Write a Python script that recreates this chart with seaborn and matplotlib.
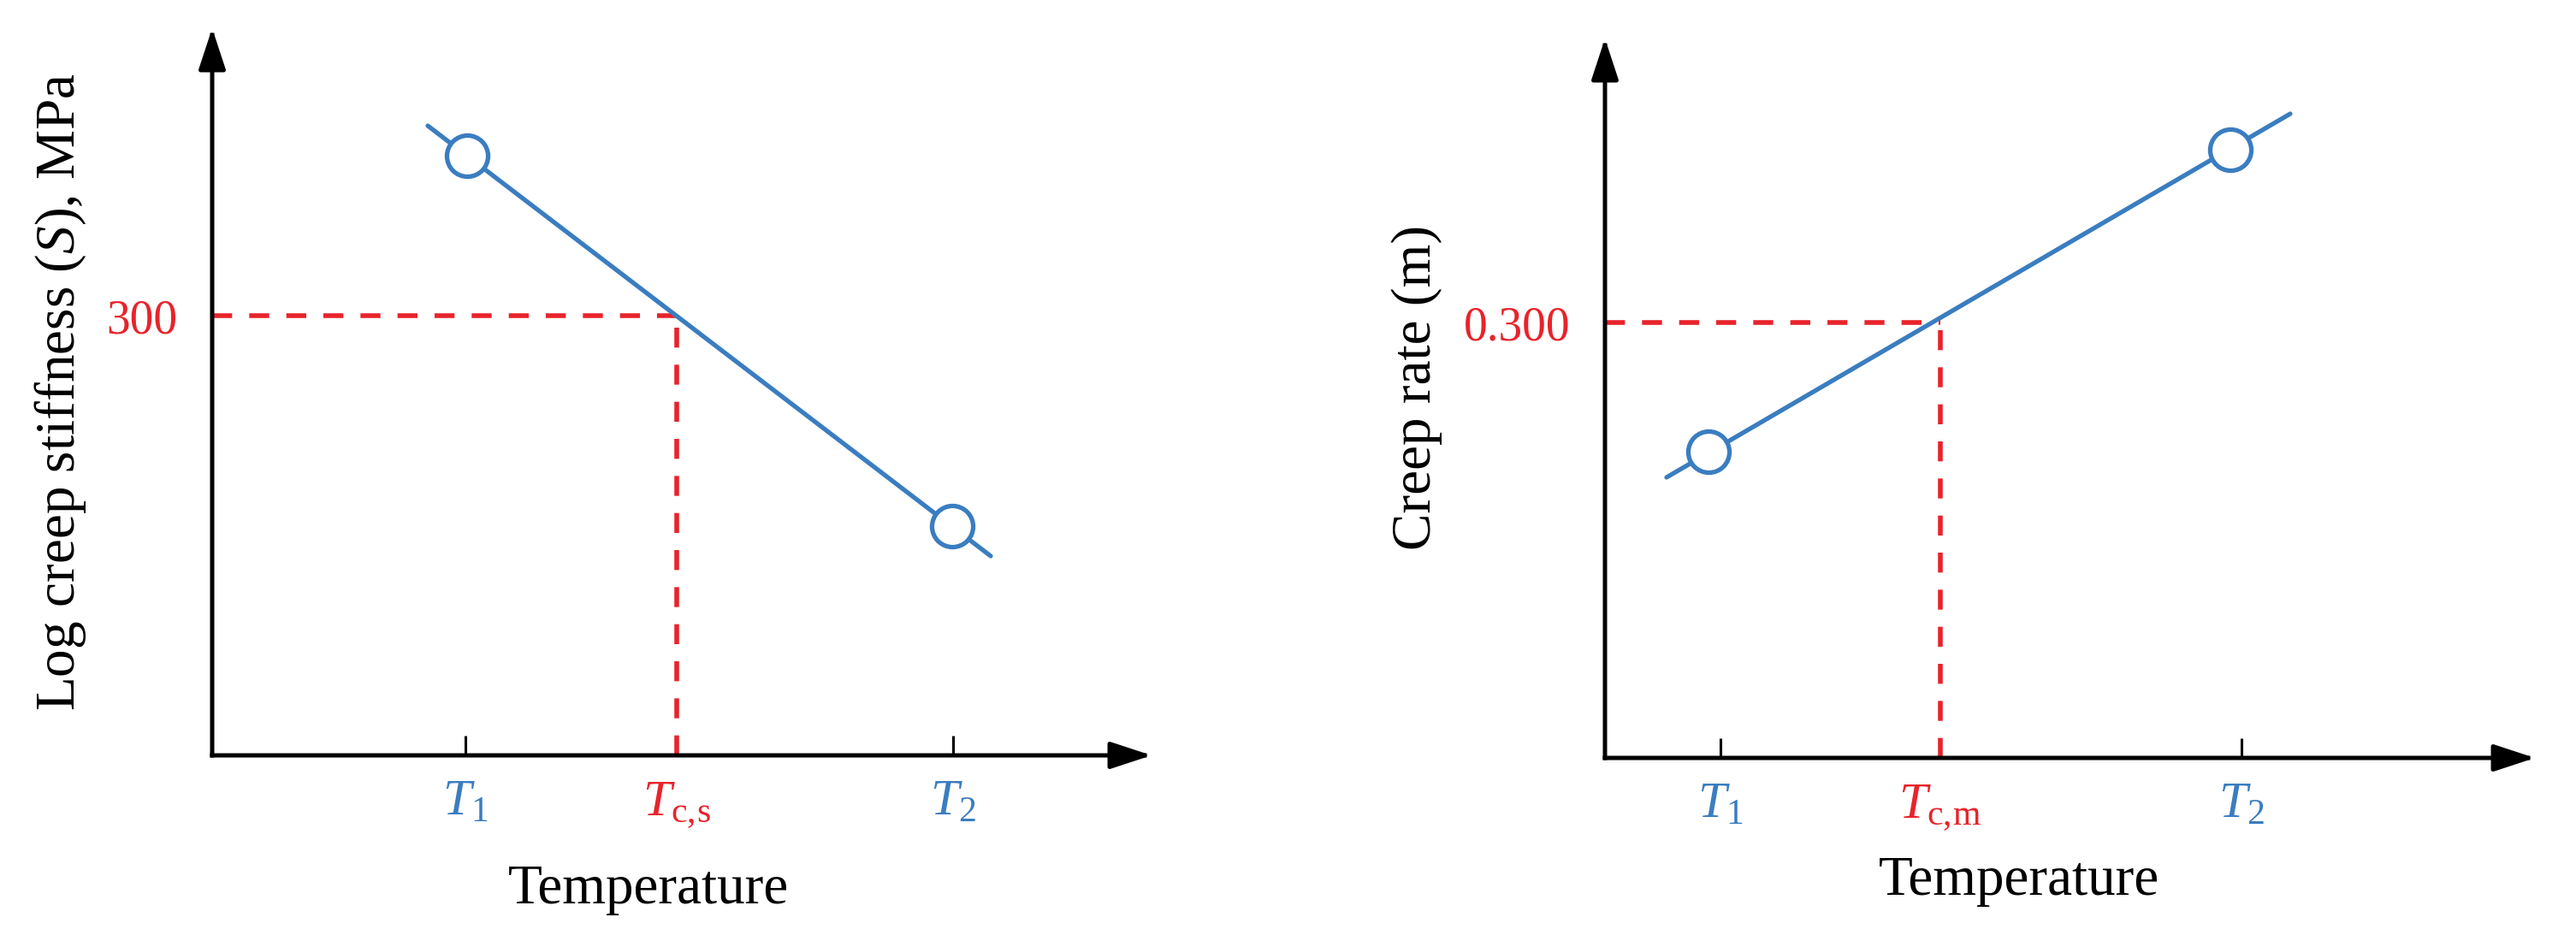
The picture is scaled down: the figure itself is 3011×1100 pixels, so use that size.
import matplotlib
matplotlib.use("Agg")
import matplotlib.pyplot as plt
import seaborn as sns
import pandas as pd

sns.set_theme(style="white")
plt.rcParams["font.family"] = ["Liberation Serif", "DejaVu Serif"]
plt.rcParams["mathtext.fontset"] = "custom"
plt.rcParams["mathtext.rm"] = "Liberation Serif"
plt.rcParams["mathtext.it"] = "Liberation Serif:italic"

BLUE = "#3a7dc0"
RED = "#e8232b"

# ---------------------------------------------------------------------------
# Schematic data (arbitrary units)
# ---------------------------------------------------------------------------

# left: creep stiffness
s_ticks = [2.96, 5.43, 8.66]          # T1, Tc,s, T2
s_tick_labels = [r"$T_1$", r"$T_{\mathrm{c,\!s}}$", r"$T_2$"]
s_point_x = [2.98, 8.65]
s_point_y = [7.01, 2.68]
s_line_x = [2.52, 9.10]
s_line_y = [7.36, 2.33]
s_level = 5.14
s_level_label = "300"
s_limits = (10.98, 8.50)

# right: creep rate
m_ticks = [1.35, 3.92, 7.44]          # T1, Tc,m, T2
m_tick_labels = [r"$T_1$", r"$T_{\mathrm{c,\!m}}$", r"$T_2$"]
m_point_x = [1.21, 7.31]
m_point_y = [3.58, 7.11]
m_line_x = [0.72, 8.01]
m_line_y = [3.28, 7.53]
m_level = 5.09
m_level_label = "0.300"
m_limits = (10.87, 8.41)


def draw_panel(ax, ticks, tick_labels, px, py, lx, ly, level, level_label, limits, ylabel,
               ylabel_xy, xlabel_xy):
    xmax, ymax = limits
    tc = ticks[1]

    # red guide lines
    dash = (0, (4.2, 3.6))
    ax.plot([0, tc], [level, level], color=RED, lw=4.0, ls=dash, zorder=1)
    ax.plot([tc, tc], [0, level], color=RED, lw=4.0, ls=dash, zorder=1)

    line_df = pd.DataFrame({"x": lx, "y": ly})
    sns.lineplot(data=line_df, x="x", y="y", color=BLUE, lw=3.8, sort=False,
                 estimator=None, ax=ax, zorder=2)
    pts_df = pd.DataFrame({"x": px, "y": py})
    sns.scatterplot(data=pts_df, x="x", y="y", s=1200, facecolor="white",
                    edgecolor=BLUE, linewidth=3.8, ax=ax, zorder=3)

    ax.set_xlim(0, xmax)
    ax.set_ylim(0, ymax)
    for sp in ax.spines.values():
        sp.set_visible(False)

    # axis arrows
    arrow = dict(arrowstyle="-|>,head_length=2.95,head_width=0.97", mutation_scale=10,
                 lw=3.6, color="black", shrinkA=0, shrinkB=0, capstyle="projecting")
    ax.annotate("", xy=(xmax, 0), xytext=(0, 0), arrowprops=arrow,
                annotation_clip=False, zorder=4)
    ax.annotate("", xy=(0, ymax), xytext=(0, 0), arrowprops=arrow,
                annotation_clip=False, zorder=4)

    ax.set_xticks(ticks)
    ax.set_xticklabels(tick_labels, fontsize=43)
    ax.tick_params(axis="x", bottom=True, direction="in", length=16.6, width=2.2,
                   color="black", pad=21)
    tks = ax.xaxis.get_major_ticks()
    tks[1].tick1line.set_visible(False)
    for lab, c in zip(ax.get_xticklabels(), [BLUE, RED, BLUE]):
        lab.set_color(c)

    ax.set_yticks([level])
    ax.set_yticklabels([level_label], fontsize=40, color=RED)
    ax.tick_params(axis="y", left=False, length=0, pad=29.5)

    ax.set_ylabel(ylabel, fontsize=47, color="black")
    ax.yaxis.set_label_coords(*ylabel_xy)
    ax.set_xlabel("Temperature", fontsize=47, color="black")
    ax.xaxis.set_label_coords(*xlabel_xy)
    ax.grid(False)


fig = plt.figure(figsize=(30.11, 11), dpi=100)
W, H = 3011, 1100
ax1 = fig.add_axes([248 / W, (H - 883) / H, 1098 / W, 850 / H])
ax2 = fig.add_axes([1876 / W, (H - 886) / H, 1087 / W, 841 / H])

draw_panel(ax1, s_ticks, s_tick_labels, s_point_x, s_point_y, s_line_x, s_line_y,
           s_level, s_level_label, s_limits, r"Log creep stiffness ($S$), MPa",
           (-0.132, 0.5), (0.4645, -0.15))
draw_panel(ax2, m_ticks, m_tick_labels, m_point_x, m_point_y, m_line_x, m_line_y,
           m_level, m_level_label, m_limits, "Creep rate (m)",
           (-0.175, 0.515), (0.445, -0.136))

fig.savefig("out.png", dpi=100, facecolor="white")
